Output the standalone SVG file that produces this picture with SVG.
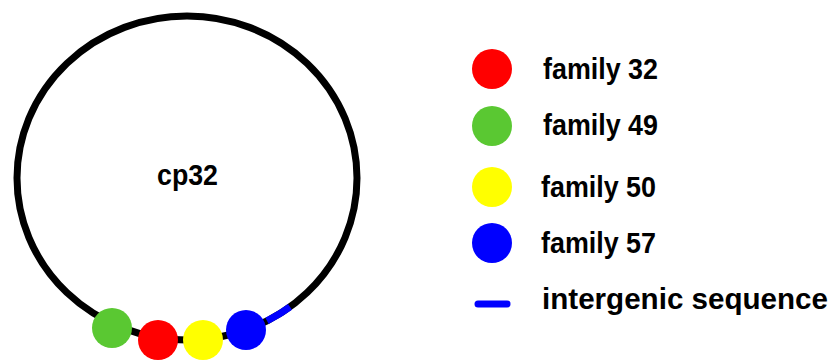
<svg xmlns="http://www.w3.org/2000/svg" width="831" height="360" viewBox="0 0 831 360">
<style>
.lbl{font-family:"Liberation Sans",Arial,sans-serif;font-weight:bold;font-size:29px;fill:#000}
.bead{stroke:none}
</style>
<rect width="831" height="360" fill="#fff"/>
<g id="plasmid">
<ellipse cx="187" cy="178" rx="170" ry="162" fill="none" stroke="#000" stroke-width="7"/>
<text class="lbl" x="157" y="185" textLength="61" lengthAdjust="spacingAndGlyphs">cp32</text>
</g>
<g id="connectors">
<path d="M267,320.9 A170,162 0 0 0 290,306.9" fill="none" stroke="#0000ff" stroke-width="7"/>
</g>
<g id="bead-green"><circle class="bead" cx="112" cy="328" r="20" fill="#5ac832"/></g>
<g id="bead-red"><circle class="bead" cx="158" cy="340" r="20" fill="#ff0000"/></g>
<g id="bead-yellow"><circle class="bead" cx="203" cy="340" r="20" fill="#ffff00"/></g>
<g id="bead-blue"><circle class="bead" cx="246" cy="330" r="20" fill="#0000ff"/></g>
<g id="legend-32"><circle cx="492" cy="69" r="20" fill="#ff0000"/><text class="lbl" x="543" y="79" textLength="115" lengthAdjust="spacingAndGlyphs">family 32</text></g>
<g id="legend-49"><circle cx="492" cy="126" r="20" fill="#5ac832"/><text class="lbl" x="543" y="135" textLength="115" lengthAdjust="spacingAndGlyphs">family 49</text></g>
<g id="legend-50"><circle cx="492" cy="187" r="20" fill="#ffff00"/><text class="lbl" x="541" y="197" textLength="115" lengthAdjust="spacingAndGlyphs">family 50</text></g>
<g id="legend-57"><circle cx="492" cy="243" r="20" fill="#0000ff"/><text class="lbl" x="541" y="253" textLength="115" lengthAdjust="spacingAndGlyphs">family 57</text></g>
<g id="legend-intergenic"><line x1="478" y1="304" x2="507" y2="304" stroke="#0000ff" stroke-width="7" stroke-linecap="round"/><text class="lbl" x="542" y="309" textLength="286" lengthAdjust="spacingAndGlyphs">intergenic sequence</text></g>
</svg>
